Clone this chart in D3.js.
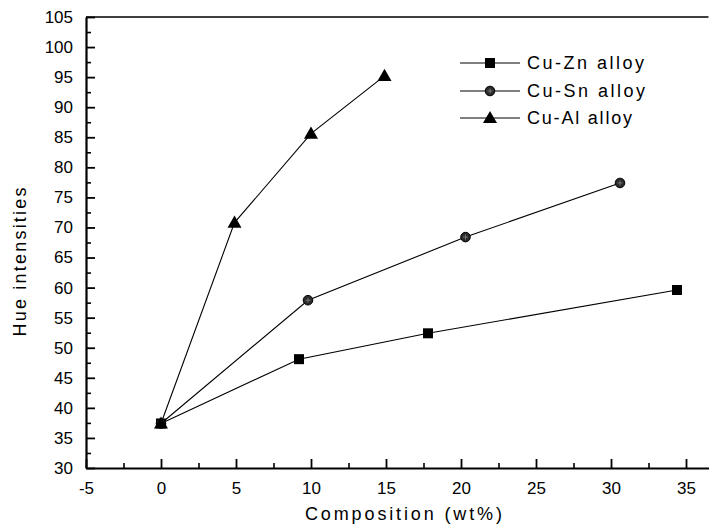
<!DOCTYPE html>
<html>
<head>
<meta charset="utf-8">
<script src="https://cdn.jsdelivr.net/npm/d3@7"></script>
<style>
  body { margin: 0; background: #fff; }
  svg { display: block; font-family: "Liberation Sans", Arial, sans-serif; }
</style>
</head>
<body>
<svg id="chart" width="717" height="531"></svg>
<script>
// ---- data ----
const znX = [0, 9.2, 17.8, 34.4];
const znY = [37.4, 48.1, 52.4, 59.6];
const snX = [0, 9.8, 20.3, 30.6];
const snY = [37.4, 57.9, 68.4, 77.4];
const alX = [0, 4.9, 10.0, 14.9];
const alY = [37.4, 70.8, 85.6, 95.2];
const seriesNames = ["Cu-Zn alloy", "Cu-Sn alloy", "Cu-Al alloy"];
const xTicks = [-5, 0, 5, 10, 15, 20, 25, 30, 35];
const yTicks = [30, 35, 40, 45, 50, 55, 60, 65, 70, 75, 80, 85, 90, 95, 100, 105];
const xMinor = [-2.5, 2.5, 7.5, 12.5, 17.5, 22.5, 27.5, 32.5];
const yMinor = [32.5, 37.5, 42.5, 47.5, 52.5, 57.5, 62.5, 67.5, 72.5, 77.5, 82.5, 87.5, 92.5, 97.5, 102.5];
const xTitle = "Composition (wt%)";
const yTitle = "Hue intensities";

const svg = d3.select("#chart");
const x = d3.scaleLinear().domain([-5, 36.5]).range([86, 708.5]);
const y = d3.scaleLinear().domain([30, 105]).range([468, 17]);

// top frame line
svg.append("line")
  .attr("x1", x(-5)).attr("x2", x(36.5))
  .attr("y1", y(105)).attr("y2", y(105))
  .attr("stroke", "#000").attr("stroke-width", 1.6);

// minor ticks
svg.append("g").attr("transform", `translate(0,${y(30)})`)
  .call(d3.axisBottom(x).tickValues(xMinor).tickSize(-5).tickSizeOuter(0).tickFormat(""))
  .call(g => g.select(".domain").remove())
  .call(g => g.selectAll("line").attr("stroke-width", 1.6));
svg.append("g").attr("transform", `translate(${x(-5)},0)`)
  .call(d3.axisLeft(y).tickValues(yMinor).tickSize(-5).tickSizeOuter(0).tickFormat(""))
  .call(g => g.select(".domain").remove())
  .call(g => g.selectAll("line").attr("stroke-width", 1.6));

// major axes
const gx = svg.append("g").attr("transform", `translate(0,${y(30)})`)
  .call(d3.axisBottom(x).tickValues(xTicks).tickSize(-9).tickSizeOuter(0).tickPadding(14).tickFormat(d => String(d)));
gx.select(".domain").attr("stroke-width", 2.2);
gx.selectAll("line").attr("stroke-width", 1.8);
gx.selectAll("text").attr("font-size", 17).attr("fill", "#000").attr("font-family", "Liberation Sans, Arial, sans-serif");

const gy = svg.append("g").attr("transform", `translate(${x(-5)},0)`)
  .call(d3.axisLeft(y).tickValues(yTicks).tickSize(-9).tickSizeOuter(0).tickPadding(13).tickFormat(d => String(d)));
gy.select(".domain").attr("stroke-width", 2.2);
gy.selectAll("line").attr("stroke-width", 1.8);
gy.selectAll("text").attr("font-size", 17).attr("fill", "#000").attr("font-family", "Liberation Sans, Arial, sans-serif");

// axis titles
svg.append("text").attr("x", 305).attr("y", 520)
  .attr("font-size", 18).attr("textLength", 197).attr("lengthAdjust", "spacing")
  .text(xTitle);
svg.append("text").attr("transform", `translate(26,262) rotate(-90)`)
  .attr("text-anchor", "middle")
  .attr("font-size", 18).attr("textLength", 149).attr("lengthAdjust", "spacing")
  .text(yTitle);

// series
const series = [
  { xs: znX, ys: znY, shape: "square" },
  { xs: snX, ys: snY, shape: "circle" },
  { xs: alX, ys: alY, shape: "triangle" }
];
const line = d3.line().x(d => x(d[0])).y(d => y(d[1]));

function marker(g, shape, cx, cy) {
  if (shape === "square") {
    g.append("rect").attr("x", cx - 5).attr("y", cy - 5).attr("width", 10).attr("height", 10).attr("fill", "#000");
  } else if (shape === "circle") {
    g.append("circle").attr("cx", cx).attr("cy", cy).attr("r", 4.8).attr("fill", "#2a2a2a").attr("stroke", "#000").attr("stroke-width", 1);
    g.append("path").attr("d", `M${cx-2.5},${cy}H${cx+2.5}M${cx},${cy-2.5}V${cy+2.5}`).attr("stroke", "#888").attr("stroke-width", 0.8);
  } else {
    g.append("path").attr("d", d3.symbol(d3.symbolTriangle, 85)()).attr("transform", `translate(${cx},${cy+1})`).attr("fill", "#000");
  }
}

series.forEach(s => {
  const pts = s.xs.map((v, i) => [v, s.ys[i]]);
  svg.append("path").datum(pts).attr("d", line)
    .attr("fill", "none").attr("stroke", "#000").attr("stroke-width", 1.1);
});
series.forEach(s => {
  const g = svg.append("g");
  s.xs.forEach((v, i) => marker(g, s.shape, x(v), y(s.ys[i])));
});

// legend
const legY = [63, 91, 118];
series.forEach((s, i) => {
  const g = svg.append("g");
  g.append("line").attr("x1", 460).attr("x2", 520).attr("y1", legY[i]).attr("y2", legY[i])
    .attr("stroke", "#000").attr("stroke-width", 1.1);
  marker(g, s.shape, 490, legY[i]);
  g.append("text").attr("x", 527).attr("y", legY[i] + 6)
    .attr("font-size", 18).attr("textLength", i === 2 ? 105 : (i === 1 ? 118 : 117)).attr("lengthAdjust", "spacing")
    .text(seriesNames[i]);
});
</script>
</body>
</html>
